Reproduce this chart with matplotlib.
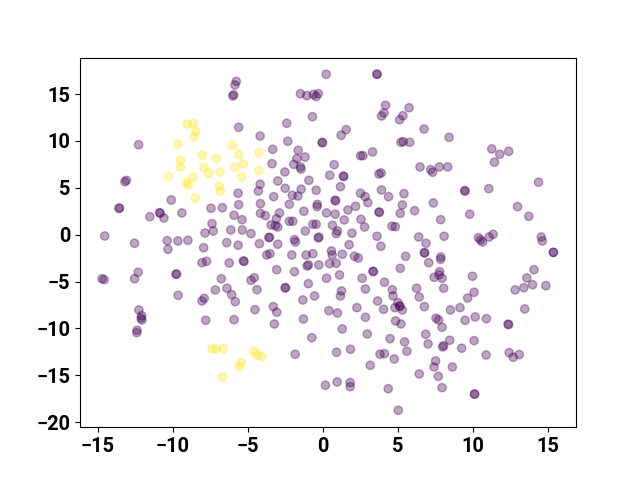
import numpy as np
import matplotlib
matplotlib.use('Agg')
import matplotlib.pyplot as plt

plt.rcParams['font.family'] = ['Roboto', 'DejaVu Sans']

# cluster 1 (yellow)
yellow_pts = [
    (-9.04, 11.78), (-8.64, 11.89), (-8.48, 11.0), (-8.6, 10.43), (-9.67, 9.65),
    (-6.01, 9.54), (-5.61, 8.54), (-8.04, 8.51), (-7.1, 8.11), (-9.49, 7.97),
    (-9.49, 7.23), (-7.93, 7.19), (-7.61, 6.58), (-6.86, 6.66), (-5.86, 7.19),
    (-5.3, 7.58), (-10.29, 6.23), (-8.68, 6.16), (-9.13, 5.55), (-8.95, 5.3),
    (-5.41, 6.16), (-4.25, 8.75), (-4.25, 6.87), (-6.9, 5.2), (-6.84, 4.66),
    (-8.51, 3.92),
    (-7.39, -12.2), (-7.13, -12.2), (-6.64, -12.2), (-5.45, -13.66), (-5.57, -14.09),
    (-6.68, -15.19), (-4.57, -12.44), (-4.39, -12.84), (-4.07, -13.02),
]

# cluster 0 (purple)
purple_pts = [
    # upper left
    (-5.77, 16.37), (-5.86, 15.98), (-5.95, 14.95), (-6.0, 14.8), (-5.61, 11.46),
    (-12.29, 9.6), (-13.1, 5.8), (-13.2, 5.65),
    # upper middle
    (0.23, 17.12), (3.62, 17.15), (3.62, 17.1),
    (-1.49, 15.05), (-1.06, 14.84), (-0.62, 14.96), (-0.44, 14.75), (-0.3, 15.05),
    (4.19, 13.81), (4.08, 12.99), (3.92, 12.67), (5.76, 13.55), (5.35, 12.7), (5.13, 12.27),
    (-0.69, 12.59), (-2.4, 11.89), (1.56, 11.21), (1.23, 10.61), (-4.18, 10.53), (-2.33, 9.97),
    (-0.04, 9.86), (-0.02, 9.8),
    (-3.34, 9.11), (-1.64, 9.0), (-1.18, 8.29), (-1.73, 8.11), (-1.93, 7.51), (-1.49, 7.23),
    (-1.45, 7.0), (-3.38, 7.58), (-2.53, 6.69), (-3.0, 5.73), (-0.93, 5.8), (0.76, 7.47),
    (0.47, 6.34), (1.38, 6.26), (1.4, 6.2),
    (2.52, 8.43), (2.68, 8.43), (3.32, 8.83), (3.75, 6.48), (3.9, 6.59),
    (5.22, 9.86), (5.37, 9.93), (5.8, 9.86),
    # upper right
    (6.76, 11.28), (8.43, 10.39), (11.28, 9.15), (11.81, 8.58), (12.41, 8.9), (11.46, 7.73),
    (6.49, 7.23), (7.2, 6.94), (7.33, 6.66), (7.78, 7.23), (8.34, 7.23), (14.4, 5.6),
    # middle left
    (-13.56, 2.85), (-13.6, 2.8), (-10.89, 2.35), (-10.85, 2.3), (-11.54, 1.92), (-10.6, 1.78),
    (-9.4, 2.32), (-10.11, 3.7),
    (-5.65, 4.42), (-5.61, 3.2), (-7.46, 2.82), (-6.7, 2.88), (-5.92, 2.07), (-5.39, 1.6),
    (-7.39, 1.17), (-7.86, 0.18), (-7.31, 0.39), (-6.14, 0.5), (-5.37, 0.5),
    (-14.55, -0.14), (-12.56, -0.92), (-10.38, -0.64), (-9.67, -0.67), (-9.0, -0.6),
    (-10.33, -1.56), (-7.95, -1.39), (-6.41, -0.85), (-5.65, -1.13),
    (-8.06, -2.99), (-7.75, -2.84), (-6.24, -3.02), (-5.3, -2.8), (-5.25, -2.85),
    (-12.32, -4.01), (-12.56, -4.7), (-14.73, -4.7), (-14.59, -4.8), (-9.8, -4.23),
    (-9.75, -4.2), (-6.77, -4.7),
    (-7.17, -5.9), (-6.39, -5.72), (-6.08, -6.4), (-5.84, -7.15), (-9.65, -6.47),
    (-8.06, -7.08), (-7.91, -6.79),
    # center
    (-4.18, 5.38), (-4.3, 4.66), (-2.51, 4.95), (-3.27, 4.06), (-4.16, 3.31), (-4.16, 2.28),
    (-3.83, 2.03), (-2.89, 2.32), (-3.09, 1.71), (-3.45, 1.04), (-3.16, 0.96), (-3.0, 0.82),
    (-2.23, 1.43), (-2.0, 1.43), (-4.79, 0.11), (-3.6, -0.32), (-3.55, -0.28), (-4.23, -0.96),
    (-3.0, -1.02), (-1.89, -0.53), (-1.82, -0.78),
    (-2.03, 4.2), (-1.66, 4.13), (-1.44, 4.85), (-0.44, 4.74), (-2.23, 3.24), (-1.26, 2.5),
    (-0.37, 3.24), (-0.37, 2.99), (-1.16, 0.39), (-0.66, 1.11), (-0.44, 1.11), (-0.26, -0.25),
    (-0.3, -0.35),
    (0.25, 2.32), (0.83, 3.67), (0.85, 3.62), (1.18, 5.12), (0.83, 2.18), (0.65, 1.0),
    (0.98, 0.39), (0.9, 0.11), (1.43, 1.57), (1.68, 2.64), (2.19, 3.03), (2.52, 4.42),
    (2.83, 4.06), (3.01, 3.42), (3.92, 4.77), (4.39, 4.06), (5.42, 4.38), (5.31, 3.17),
    (5.17, 2.28), (3.75, 2.42), (3.78, 2.38), (2.55, 1.64), (2.79, 0.82), (4.62, 0.9),
    (4.84, 0.85), (1.95, 0.15), (3.62, -0.17), (3.88, -1.24), (1.76, -1.07), (1.3, -2.09),
    (0.58, -1.74), (0.63, -2.17), (0.45, -3.09), (0.9, -3.05), (2.12, -2.31), (2.37, -2.49),
    (1.12, -4.3), (0.25, -4.65), (2.63, -4.65), (3.35, -3.9), (3.38, -3.95), (4.12, -5.08),
    (5.17, -3.59), (5.53, -2.31), (2.85, -5.8), (4.64, -5.87), (1.25, -6.0), (1.18, -6.54),
    (-0.55, -6.54), (-0.96, -5.23),
    (-3.74, -2.17), (-3.52, -2.03), (-2.07, -2.17), (-1.11, -2.17), (-0.66, -2.03),
    (-0.26, -3.23), (-0.96, -3.23), (-1.04, -3.34), (-3.07, -3.74), (-1.89, -3.95),
    (-4.79, -4.87), (-4.57, -4.59), (-4.39, -5.87), (-2.51, -5.69), (-2.48, -5.65),
    (-1.33, -6.97), (3.66, -7.08), (4.69, -6.54), (5.02, -7.26),
    # middle right
    (9.47, 4.7), (9.5, 4.65), (11.08, 4.91), (7.38, 3.38), (6.13, 2.56), (7.87, 1.6),
    (9.81, 2.18), (13.0, 2.99), (13.75, 1.96), (6.4, -0.25), (6.89, -0.92), (8.1, -0.17),
    (10.39, -0.32), (10.52, -0.57), (10.66, -0.78), (11.1, -0.25), (11.37, 0.04),
    (14.58, -0.25), (14.65, -0.67), (15.4, -1.88), (15.38, -1.9), (6.78, -1.92), (6.8, -1.95),
    (7.07, -2.99), (7.87, -2.38), (7.87, -2.63), (7.8, -3.95), (7.76, -4.3), (7.43, -4.55),
    (7.96, -4.65), (9.99, -4.44), (8.07, -5.72), (6.26, -5.72), (6.44, -6.65), (10.1, -6.15),
    (9.67, -6.76), (14.1, -3.74), (13.62, -4.62), (14.0, -5.34), (13.42, -5.66),
    (12.84, -5.9), (14.89, -5.44),
    # lower left
    (-12.27, -8.04), (-12.09, -8.64), (-12.12, -8.92), (-12.07, -9.1), (-12.39, -10.2),
    (-12.41, -10.46), (-7.81, -9.14), (-5.92, -9.07),
    # lower middle
    (-4.52, -8.0), (-3.3, -7.68), (-3.07, -8.28), (-3.23, -9.53), (-1.29, -9.0),
    (-0.73, -10.99), (-1.84, -12.76), (0.41, -8.11), (0.98, -8.36), (2.28, -7.79),
    (1.3, -10.06), (2.85, -8.82), (2.97, -10.6), (4.06, -7.96), (4.82, -7.79), (5.13, -7.61),
    (5.15, -7.65), (5.31, -8.04), (4.86, -9.21), (5.22, -9.53), (4.49, -11.1), (5.46, -11.45),
    (5.62, -12.44), (0.92, -12.55), (1.85, -12.23), (3.82, -12.76), (4.12, -12.7),
    (4.77, -13.27), (3.17, -13.94), (0.18, -16.07), (0.96, -15.72), (1.83, -15.79),
    (1.83, -16.22), (4.37, -16.44), (5.04, -18.74),
    # lower right
    (6.78, -7.68), (8.52, -8.04), (9.16, -7.79), (13.48, -7.93), (7.56, -8.92), (7.73, -9.1),
    (7.96, -9.88), (9.5, -9.14), (10.17, -8.78), (10.92, -8.96), (12.37, -9.56), (12.4, -9.6),
    (6.87, -10.63), (7.03, -11.66), (8.0, -11.98), (8.07, -11.85), (8.47, -11.27),
    (9.27, -12.12), (10.1, -11.31), (10.9, -12.84), (12.44, -12.59), (12.71, -13.08),
    (13.11, -12.8), (7.53, -13.48), (7.43, -14.12), (8.65, -14.12), (6.44, -14.87),
    (7.71, -15.12), (7.96, -16.33), (10.14, -17.03), (10.12, -17.0),
]

pts = np.array(purple_pts + yellow_pts)
labels = np.array([0] * len(purple_pts) + [1] * len(yellow_pts))

plt.figure(figsize=(6.4, 4.8), dpi=100)
plt.scatter(pts[:, 0], pts[:, 1], c=labels, cmap='viridis', alpha=0.35)
plt.xlim(-16.2, 16.9)
plt.ylim(-20.55, 18.9)
plt.xticks([-15, -10, -5, 0, 5, 10, 15], fontsize=14.4, fontweight='bold')
plt.yticks([-20, -15, -10, -5, 0, 5, 10, 15], fontsize=14.4, fontweight='bold')

plt.savefig('out.png')
